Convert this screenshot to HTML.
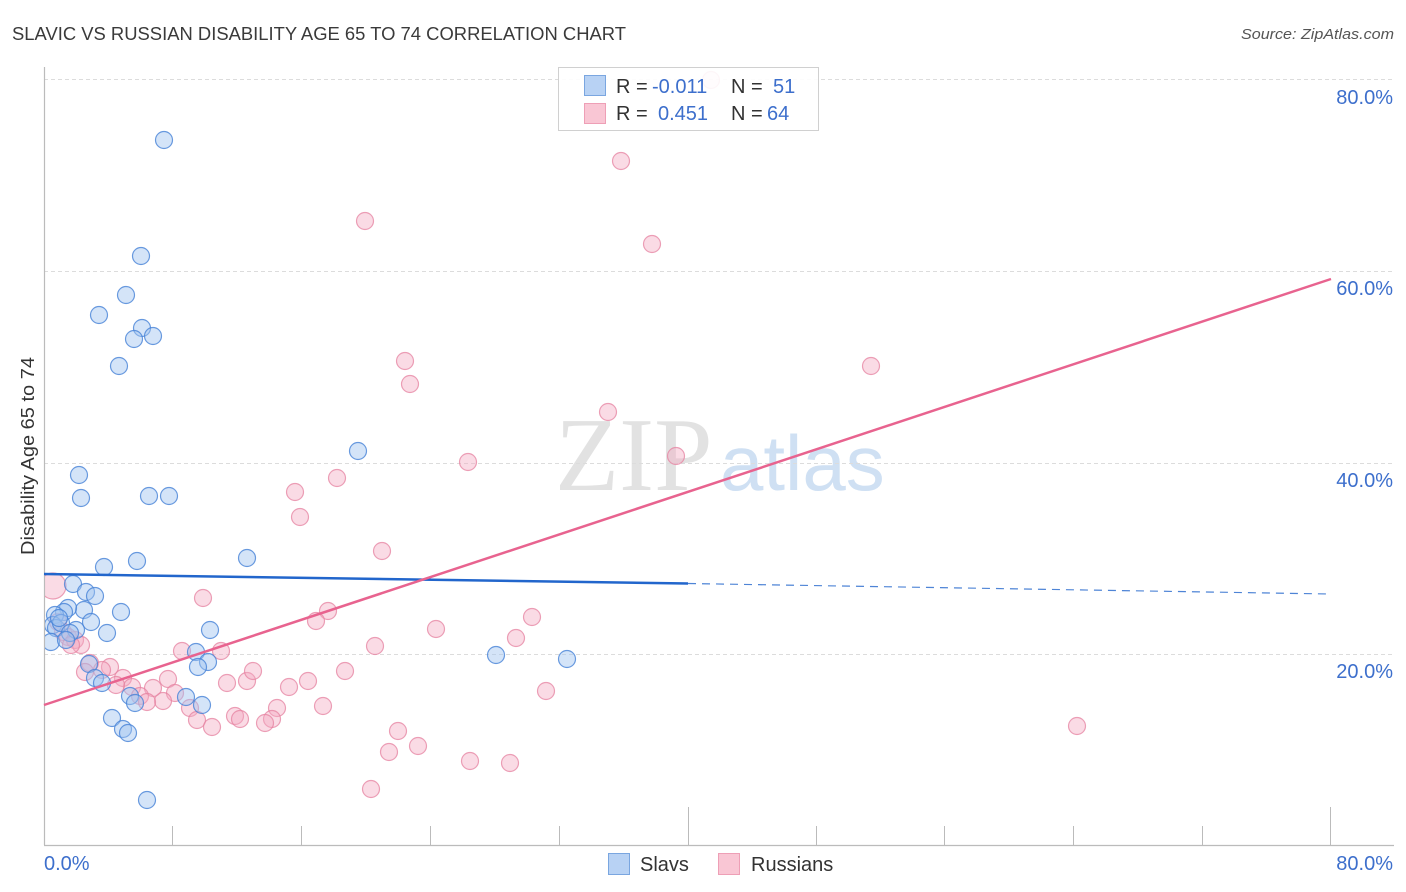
<!DOCTYPE html>
<html><head><meta charset="utf-8"><style>
html,body{margin:0;padding:0;background:#fff;}
svg{display:block;font-family:"Liberation Sans",sans-serif;}
</style></head><body>
<svg width="1406" height="892" viewBox="0 0 1406 892" xmlns="http://www.w3.org/2000/svg">
<rect width="1406" height="892" fill="#fff"/>
<text x="12" y="40" font-size="18" fill="#3a3a3a" textLength="614" lengthAdjust="spacingAndGlyphs">SLAVIC VS RUSSIAN DISABILITY AGE 65 TO 74 CORRELATION CHART</text>
<text x="1241" y="39" font-size="15" fill="#555" font-style="italic" textLength="153" lengthAdjust="spacingAndGlyphs">Source: ZipAtlas.com</text>
<!-- watermark -->
<text x="555" y="490" font-family="Liberation Serif,serif" font-size="105" fill="#e2e2e2">ZIP</text>
<text x="720" y="490" font-size="78" fill="#cfe0f3">atlas</text>
<!-- gridlines -->
<g stroke="#dcdcdc" stroke-width="1" stroke-dasharray="4,3">
<line x1="44" y1="79.5" x2="1393" y2="79.5"/>
<line x1="44" y1="271.5" x2="1393" y2="271.5"/>
<line x1="44" y1="463.5" x2="1393" y2="463.5"/>
<line x1="44" y1="654.5" x2="1393" y2="654.5"/>
</g>
<!-- axes -->
<line x1="44.5" y1="67" x2="44.5" y2="845" stroke="#bbb" stroke-width="1.2"/>
<line x1="44" y1="845.5" x2="1394" y2="845.5" stroke="#bbb" stroke-width="1.2"/>
<g stroke="#bbb" stroke-width="1">
<line x1="172.5" y1="826" x2="172.5" y2="845"/>
<line x1="301.5" y1="826" x2="301.5" y2="845"/>
<line x1="430.5" y1="826" x2="430.5" y2="845"/>
<line x1="559.5" y1="826" x2="559.5" y2="845"/>
<line x1="688.5" y1="807" x2="688.5" y2="845"/>
<line x1="816.5" y1="826" x2="816.5" y2="845"/>
<line x1="944.5" y1="826" x2="944.5" y2="845"/>
<line x1="1073.5" y1="826" x2="1073.5" y2="845"/>
<line x1="1202.5" y1="826" x2="1202.5" y2="845"/>
<line x1="1330.5" y1="807" x2="1330.5" y2="845"/>
</g>
<g font-size="20" fill="#3d6fcc" text-anchor="end">
<text x="1393" y="104">80.0%</text>
<text x="1393" y="295">60.0%</text>
<text x="1393" y="487">40.0%</text>
<text x="1393" y="678">20.0%</text>
<text x="1393" y="870">80.0%</text>
</g>
<text x="44" y="870" font-size="20" fill="#3d6fcc">0.0%</text>
<text transform="translate(34,555) rotate(-90)" font-size="18" fill="#333" textLength="198" lengthAdjust="spacingAndGlyphs">Disability Age 65 to 74</text>
<defs><clipPath id="pc"><rect x="45" y="60" width="1350" height="785"/></clipPath></defs>
<g clip-path="url(#pc)">
<!-- Russians -->
<g fill="rgba(244,170,192,0.42)" stroke="rgba(230,130,160,0.75)" stroke-width="1.2">
<circle cx="53" cy="586" r="13"/>
<circle cx="711" cy="80" r="8.5"/><circle cx="621" cy="161" r="8.5"/><circle cx="365" cy="221" r="8.5"/><circle cx="652" cy="244" r="8.5"/>
<circle cx="405" cy="361" r="8.5"/><circle cx="410" cy="384" r="8.5"/><circle cx="871" cy="366" r="8.5"/><circle cx="608" cy="412" r="8.5"/>
<circle cx="468" cy="462" r="8.5"/><circle cx="676" cy="456" r="8.5"/><circle cx="295" cy="492" r="8.5"/><circle cx="337" cy="478" r="8.5"/>
<circle cx="300" cy="517" r="8.5"/><circle cx="382" cy="551" r="8.5"/><circle cx="532" cy="617" r="8.5"/><circle cx="516" cy="638" r="8.5"/>
<circle cx="436" cy="629" r="8.5"/><circle cx="328" cy="611" r="8.5"/><circle cx="316" cy="621" r="8.5"/><circle cx="375" cy="646" r="8.5"/>
<circle cx="546" cy="691" r="8.5"/><circle cx="345" cy="671" r="8.5"/><circle cx="308" cy="681" r="8.5"/><circle cx="289" cy="687" r="8.5"/>
<circle cx="323" cy="706" r="8.5"/><circle cx="277" cy="708" r="8.5"/><circle cx="272" cy="719" r="8.5"/><circle cx="265" cy="723" r="8.5"/>
<circle cx="398" cy="731" r="8.5"/><circle cx="418" cy="746" r="8.5"/><circle cx="389" cy="752" r="8.5"/><circle cx="470" cy="761" r="8.5"/>
<circle cx="510" cy="763" r="8.5"/><circle cx="371" cy="789" r="8.5"/><circle cx="1077" cy="726" r="8.5"/><circle cx="203" cy="598" r="8.5"/>
<circle cx="182" cy="651" r="8.5"/><circle cx="221" cy="651" r="8.5"/><circle cx="168" cy="679" r="8.5"/><circle cx="227" cy="683" r="8.5"/>
<circle cx="247" cy="681" r="8.5"/><circle cx="253" cy="671" r="8.5"/><circle cx="175" cy="693" r="8.5"/><circle cx="163" cy="701" r="8.5"/>
<circle cx="190" cy="708" r="8.5"/><circle cx="197" cy="720" r="8.5"/><circle cx="212" cy="727" r="8.5"/><circle cx="235" cy="716" r="8.5"/>
<circle cx="240" cy="719" r="8.5"/><circle cx="90" cy="663" r="8.5"/><circle cx="110" cy="667" r="8.5"/><circle cx="85" cy="672" r="8.5"/>
<circle cx="102" cy="670" r="8.5"/><circle cx="123" cy="678" r="8.5"/><circle cx="132" cy="687" r="8.5"/><circle cx="116" cy="685" r="8.5"/>
<circle cx="153" cy="688" r="8.5"/><circle cx="140" cy="696" r="8.5"/><circle cx="147" cy="702" r="8.5"/><circle cx="58" cy="622" r="8.5"/>
<circle cx="63" cy="632" r="8.5"/><circle cx="68" cy="637" r="8.5"/><circle cx="75" cy="640" r="8.5"/><circle cx="81" cy="645" r="8.5"/>
<circle cx="71" cy="645" r="8.5"/>
</g>
<!-- Slavs -->
<g fill="rgba(160,195,240,0.45)" stroke="rgba(70,130,215,0.8)" stroke-width="1.2">
<circle cx="164" cy="140" r="8.5"/><circle cx="141" cy="256" r="8.5"/><circle cx="126" cy="295" r="8.5"/><circle cx="99" cy="315" r="8.5"/>
<circle cx="142" cy="328" r="8.5"/><circle cx="153" cy="336" r="8.5"/><circle cx="134" cy="339" r="8.5"/><circle cx="119" cy="366" r="8.5"/>
<circle cx="358" cy="451" r="8.5"/><circle cx="79" cy="475" r="8.5"/><circle cx="81" cy="498" r="8.5"/><circle cx="149" cy="496" r="8.5"/>
<circle cx="169" cy="496" r="8.5"/><circle cx="247" cy="558" r="8.5"/><circle cx="137" cy="561" r="8.5"/><circle cx="104" cy="567" r="8.5"/>
<circle cx="73" cy="584" r="8.5"/><circle cx="86" cy="592" r="8.5"/><circle cx="95" cy="596" r="8.5"/><circle cx="121" cy="612" r="8.5"/>
<circle cx="84" cy="610" r="8.5"/><circle cx="68" cy="608" r="8.5"/><circle cx="64" cy="612" r="8.5"/><circle cx="91" cy="622" r="8.5"/>
<circle cx="76" cy="630" r="8.5"/><circle cx="55" cy="615" r="8.5"/><circle cx="53" cy="625" r="8.5"/><circle cx="56" cy="628" r="8.5"/>
<circle cx="107" cy="633" r="8.5"/><circle cx="51" cy="642" r="8.5"/><circle cx="61" cy="623" r="8.5"/><circle cx="70" cy="633" r="8.5"/>
<circle cx="59" cy="618" r="8.5"/><circle cx="66" cy="640" r="8.5"/>
<circle cx="210" cy="630" r="8.5"/><circle cx="196" cy="652" r="8.5"/><circle cx="208" cy="662" r="8.5"/><circle cx="198" cy="667" r="8.5"/>
<circle cx="496" cy="655" r="8.5"/><circle cx="567" cy="659" r="8.5"/><circle cx="89" cy="664" r="8.5"/><circle cx="95" cy="678" r="8.5"/>
<circle cx="102" cy="683" r="8.5"/><circle cx="130" cy="696" r="8.5"/><circle cx="135" cy="703" r="8.5"/><circle cx="186" cy="697" r="8.5"/>
<circle cx="202" cy="705" r="8.5"/><circle cx="112" cy="718" r="8.5"/><circle cx="123" cy="729" r="8.5"/><circle cx="128" cy="733" r="8.5"/>
<circle cx="147" cy="800" r="8.5"/>
</g>
</g>
<!-- trend lines -->
<line x1="44" y1="574" x2="688" y2="583.5" stroke="#2266cc" stroke-width="2.5"/>
<line x1="688" y1="583.5" x2="1330" y2="594" stroke="#2266cc" stroke-width="1.2" stroke-dasharray="8,6" opacity="0.8"/>
<line x1="44" y1="705" x2="1331" y2="279" stroke="#e8638f" stroke-width="2.5"/>
<!-- legend -->
<rect x="558.5" y="67.5" width="260" height="63" fill="rgba(255,255,255,0.9)" stroke="#d0d0d0" stroke-width="1"/>
<rect x="584.5" y="75.5" width="21" height="20" fill="#b8d2f4" stroke="#7aa6e0" stroke-width="1"/>
<rect x="584.5" y="103.5" width="21" height="20" fill="#f9c6d4" stroke="#ee9fb6" stroke-width="1"/>
<g font-size="20">
<text x="616" y="93" fill="#333">R =</text>
<text x="652" y="93" fill="#3d6fcc">-0.011</text>
<text x="731" y="93" fill="#333">N =</text>
<text x="773" y="93" fill="#3d6fcc">51</text>
<text x="616" y="120" fill="#333">R =</text>
<text x="658" y="120" fill="#3d6fcc">0.451</text>
<text x="731" y="120" fill="#333">N =</text>
<text x="767" y="120" fill="#3d6fcc">64</text>
</g>
<!-- bottom legend -->
<rect x="608.5" y="853.5" width="21" height="21" fill="#b8d2f4" stroke="#7aa6e0" stroke-width="1"/>
<text x="640" y="871" font-size="20" fill="#333">Slavs</text>
<rect x="718.5" y="853.5" width="21" height="21" fill="#f9c6d4" stroke="#ee9fb6" stroke-width="1"/>
<text x="751" y="871" font-size="20" fill="#333">Russians</text>
</svg>
</body></html>
